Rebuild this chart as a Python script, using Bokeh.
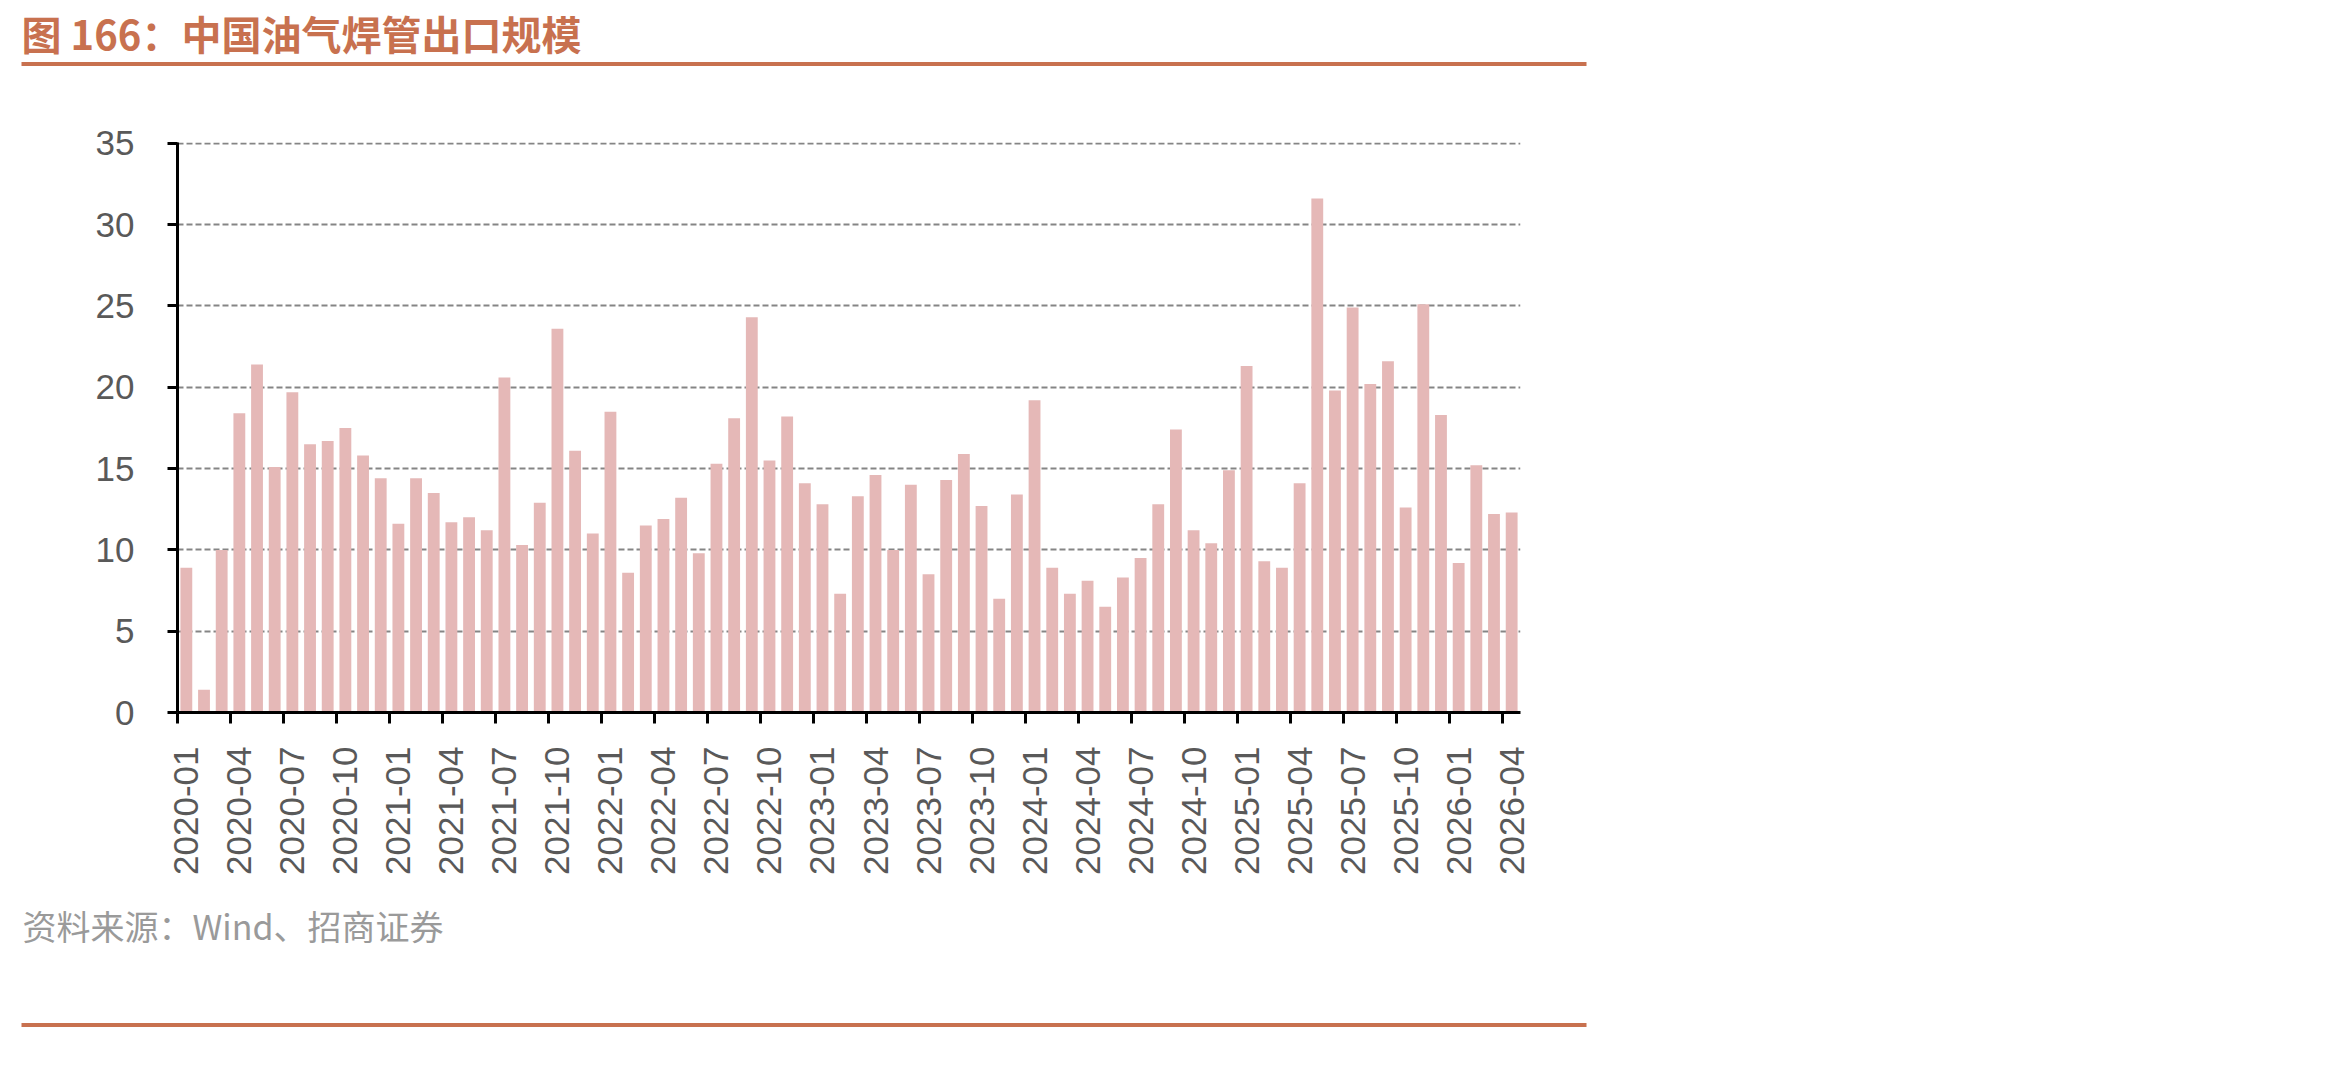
import math

from bokeh.plotting import figure
from bokeh.models import (Range1d, LinearAxis, FixedTicker, Legend, LegendItem, ColorBar,
                          LinearColorMapper, CustomJSTickFormatter, ColumnDataSource)
from bokeh.embed import file_html
from bokeh.resources import INLINE

# Monthly categories 2020-01 .. 2026-04
months = [f"{y}-{m:02d}" for y in range(2020, 2027) for m in range(1, 13)][:76]

# China export value of stainless steel welded oil/gas line pipe (HS 730611), mn USD
export_value = [
    8.9, 1.4, 10.0, 18.4, 21.4, 15.1, 19.7, 16.5, 16.7, 17.5, 15.8, 14.4,   # 2020
    11.6, 14.4, 13.5, 11.7, 12.0, 11.2, 20.6, 10.3, 12.9, 23.6, 16.1, 11.0, # 2021
    18.5, 8.6, 11.5, 11.9, 13.2, 9.8, 15.3, 18.1, 24.3, 15.5, 18.2, 14.1,   # 2022
    12.8, 7.3, 13.3, 14.6, 10.0, 14.0, 8.5, 14.3, 15.9, 12.7, 7.0, 13.4,    # 2023
    19.2, 8.9, 7.3, 8.1, 6.5, 8.3, 9.5, 12.8, 17.4, 11.2, 10.4, 14.9,       # 2024
    21.3, 9.3, 8.9, 14.1, 31.6, 19.8, 24.9, 20.2, 21.6, 12.6, 25.1, 18.3,   # 2025
    9.2, 15.2, 12.2, 12.3,                                                  # 2026
]

y_ticks = [0, 5, 10, 15, 20, 25, 30, 35]
label_step = 3

title_text = "图 166：中国油气焊管出口规模"
legend_text = "中国:出口金额:不锈钢制石油或天然气焊缝管道管(730611)（mn USD）"
source_text = "资料来源：Wind、招商证券"

ACCENT = "#C8714F"
BAR = "#E5B8B7"
TEXT = "#595959"
CJK = "Noto Sans CJK SC"
LATIN = "Liberation Sans"

FRAME_LEFT = 177
RULE_LEFT, RULE_RIGHT = 21, 1586

n = len(months)
# each month occupies one unit slot [i, i+1]; bars sit at the slot centre
src = ColumnDataSource(dict(month=months, slot=[i + 0.5 for i in range(n)], value=export_value))

p = figure(frame_width=1343, frame_height=570, x_range=Range1d(0, n), y_range=Range1d(0, 35.05),
           x_axis_location=None, title_location=None, output_backend="svg",
           toolbar_location=None, min_border_left=FRAME_LEFT, min_border_right=830,
           min_border_top=135, min_border_bottom=373)
p.outline_line_color = None
p.background_fill_color = "white"
p.border_fill_color = "white"

bars = p.vbar(x="slot", top="value", width=0.67, source=src, fill_color=BAR, line_color=None)

# boundary ticks every third month
tick_axis = LinearAxis(ticker=FixedTicker(ticks=list(range(0, n, label_step))),
                       formatter=CustomJSTickFormatter(code="return ''"),
                       axis_line_color="black", axis_line_width=3,
                       major_tick_line_color="black", major_tick_line_width=3,
                       major_tick_out=11, major_tick_in=0, minor_tick_out=0, minor_tick_in=0,
                       major_label_text_font_size="0px", major_label_standoff=0,
                       major_label_orientation=math.pi / 2)
p.add_layout(tick_axis, "below")

# month labels centred on their slot
label_axis = LinearAxis(ticker=FixedTicker(ticks=[i + 0.5 for i in range(0, n, label_step)]),
                        formatter=CustomJSTickFormatter(args=dict(labels=months),
                                                        code="return labels[Math.floor(tick)] || ''"),
                        axis_line_color=None, major_tick_line_color=None,
                        minor_tick_line_color=None,
                        major_label_orientation=math.pi / 2, major_label_standoff=17,
                        major_label_text_font=LATIN, major_label_text_font_size="35px",
                        major_label_text_color=TEXT)
p.add_layout(label_axis, "below")

yax = p.yaxis[0]
yax.ticker = FixedTicker(ticks=y_ticks)
yax.axis_line_color = "black"
yax.axis_line_width = 3
yax.major_tick_line_color = "black"
yax.major_tick_line_width = 3
yax.major_tick_out = 10
yax.major_tick_in = 0
yax.minor_tick_line_color = None
yax.major_label_text_font = LATIN
yax.major_label_text_font_size = "35px"
yax.major_label_text_color = TEXT
yax.major_label_standoff = 33

p.xgrid.visible = False
p.ygrid.grid_line_color = "#858585"
p.ygrid.grid_line_width = 2
p.ygrid.grid_line_dash = "6 3"


def band(y_offset, width=RULE_RIGHT - RULE_LEFT, x_left=RULE_LEFT, alpha=1.0, **title_kw):
    """A thin accent-coloured band (page rule); its title carries heading/footer text."""
    return ColorBar(color_mapper=LinearColorMapper(palette=[ACCENT], low=0, high=1),
                    orientation="horizontal", width=width, height=4, scale_alpha=alpha,
                    location=(x_left - FRAME_LEFT, y_offset), padding=0, margin=0,
                    ticker=FixedTicker(ticks=[]), major_tick_line_color=None,
                    minor_tick_line_color=None, major_label_text_font_size="0px",
                    bar_line_color=None, border_line_color=None, background_fill_alpha=0,
                    **title_kw)


# heading: rule with the figure title sitting on it
p.add_layout(band(76.5, title=title_text, title_standoff=1, title_text_font=CJK,
                  title_text_font_style="bold", title_text_font_size="40px",
                  title_text_color=ACCENT), "above")

# footer rule
p.add_layout(band(-149.5), "below")

# source note (carried by an invisible band)
p.add_layout(band(-77.4, width=500, x_left=22, alpha=0.0, title=source_text, title_standoff=1,
                  title_text_font=CJK, title_text_font_style="normal",
                  title_text_font_size="34px", title_text_color="#9A9A9A"), "below")

# legend last in the bottom stack, anchored by its lower edge
legend = Legend(items=[LegendItem(label=legend_text, renderers=[bars])],
                location=(-36.5, 120), margin=0, padding=6, spacing=0,
                border_line_color="black", border_line_width=3,
                background_fill_color="white", background_fill_alpha=1,
                title=" ", title_location="left", title_text_font_size="1px", title_standoff=71,
                glyph_width=24, glyph_height=24, label_standoff=12,
                label_width=1230, label_height=24,
                label_text_font=CJK, label_text_font_size="37px", label_text_color=TEXT)
p.add_layout(legend, "below")

open("out.html", "w").write(file_html(p, INLINE))
